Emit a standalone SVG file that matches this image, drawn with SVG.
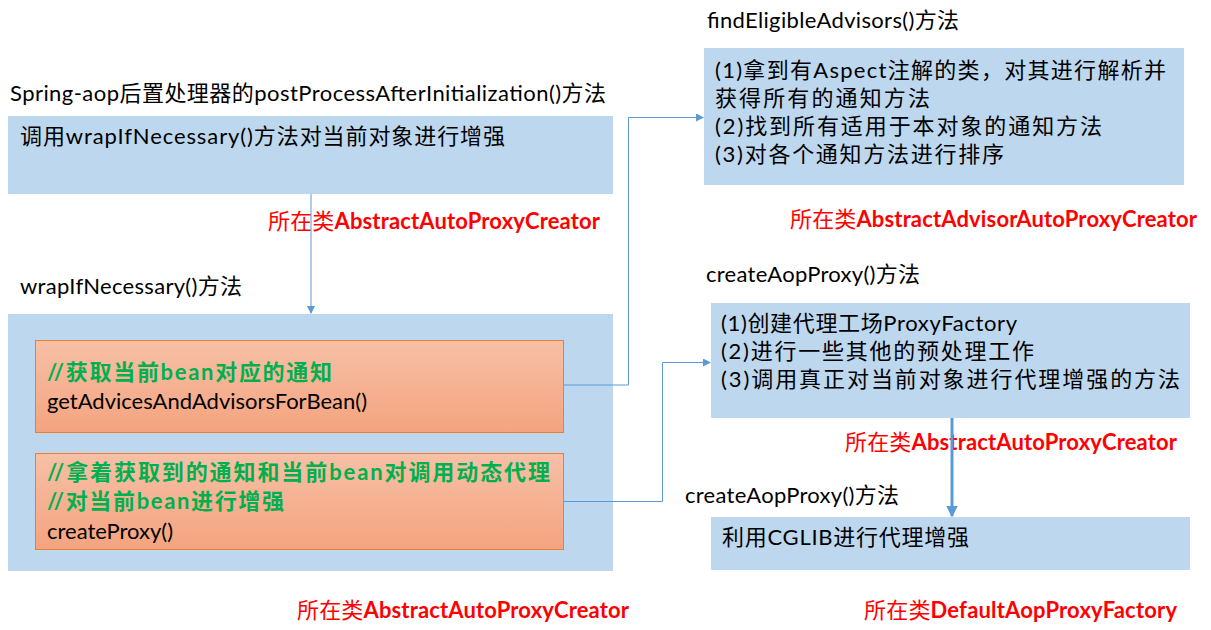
<svg xmlns="http://www.w3.org/2000/svg" width="1211" height="630" viewBox="0 0 1211 630">
<style>
text{font-family:Lato,"Noto Sans CJK SC",sans-serif;font-size:22px;fill:#000}
.box{fill:#BDD7EE}
.ob{fill:url(#og);stroke:#ED7D31;stroke-width:1}
.red{fill:#FF0000}
.red tspan.b{font-weight:bold}
.green{fill:#00B050;font-weight:bold}
.con{fill:none;stroke:#5B9BD5;stroke-width:1}
</style>
<defs>
<linearGradient id="og" x1="0" y1="0" x2="0" y2="1">
<stop offset="0" stop-color="#F7C0A6"/>
<stop offset="1" stop-color="#F4A37F"/>
</linearGradient>
<marker id="ah" markerWidth="8" markerHeight="8" refX="7" refY="4" orient="auto" markerUnits="userSpaceOnUse">
<path d="M0,0 L8,4 L0,8 Z" fill="#5B9BD5"/>
</marker>
<marker id="ah2" markerWidth="4" markerHeight="4" refX="3.5" refY="2" orient="auto">
<path d="M0,0 L4,2 L0,4 Z" fill="#5B9BD5"/>
</marker>
</defs>

<g id="post">
<text x="10" y="101" textLength="596" lengthAdjust="spacing">Spring-aop后置处理器的postProcessAfterInitialization()方法</text>
<rect class="box" x="8" y="116" width="605" height="78"/>
<text x="20" y="144" textLength="485" lengthAdjust="spacing">调用wrapIfNecessary()方法对当前对象进行增强</text>
<text class="red" x="268" y="229" textLength="332" lengthAdjust="spacing">所在类<tspan class="b">AbstractAutoProxyCreator</tspan></text>
</g>

<g id="wrap">
<text x="20" y="294" textLength="222" lengthAdjust="spacing">wrapIfNecessary()方法</text>
<rect class="box" x="8" y="314" width="605" height="257"/>
<text class="red" x="297" y="618" textLength="332" lengthAdjust="spacing">所在类<tspan class="b">AbstractAutoProxyCreator</tspan></text>
</g>

<g id="getAdvices">
<rect class="ob" x="35.5" y="340.5" width="528" height="92"/>
<text class="green" x="47" y="380" textLength="285" lengthAdjust="spacing">//获取当前bean对应的通知</text>
<text x="47" y="409" textLength="320" lengthAdjust="spacing">getAdvicesAndAdvisorsForBean()</text>
</g>

<g id="createProxy">
<rect class="ob" x="35.5" y="453.5" width="528" height="96"/>
<text class="green" x="47" y="480" textLength="503" lengthAdjust="spacing">//拿着获取到的通知和当前bean对调用动态代理</text>
<text class="green" x="47" y="509" textLength="237" lengthAdjust="spacing">//对当前bean进行增强</text>
<text x="47" y="539" textLength="126" lengthAdjust="spacing">createProxy()</text>
</g>

<g id="findEligible">
<text x="707" y="28" textLength="252" lengthAdjust="spacing">findEligibleAdvisors()方法</text>
<rect class="box" x="704" y="48" width="480" height="137"/>
<text x="715" y="78" textLength="451" lengthAdjust="spacing">(1)拿到有Aspect注解的类，对其进行解析并</text>
<text x="715" y="106" textLength="215" lengthAdjust="spacing">获得所有的通知方法</text>
<text x="715" y="134" textLength="387" lengthAdjust="spacing">(2)找到所有适用于本对象的通知方法</text>
<text x="715" y="162" textLength="289" lengthAdjust="spacing">(3)对各个通知方法进行排序</text>
<text class="red" x="790" y="227" textLength="407" lengthAdjust="spacing">所在类<tspan class="b">AbstractAdvisorAutoProxyCreator</tspan></text>
</g>

<g id="createAopProxy1">
<text x="706" y="282" textLength="214" lengthAdjust="spacing">createAopProxy()方法</text>
<rect class="box" x="711" y="303" width="479" height="115"/>
<text x="721" y="331" textLength="296" lengthAdjust="spacing">(1)创建代理工场ProxyFactory</text>
<text x="721" y="359" textLength="313" lengthAdjust="spacing">(2)进行一些其他的预处理工作</text>
<text x="721" y="387" textLength="459" lengthAdjust="spacing">(3)调用真正对当前对象进行代理增强的方法</text>
<text class="red" x="845" y="450" textLength="332" lengthAdjust="spacing">所在类<tspan class="b">AbstractAutoProxyCreator</tspan></text>
</g>

<g id="createAopProxy2">
<text x="685" y="503" textLength="214" lengthAdjust="spacing">createAopProxy()方法</text>
<rect class="box" x="711" y="517" width="479" height="53"/>
<text x="722" y="545" textLength="247" lengthAdjust="spacing">利用CGLIB进行代理增强</text>
<text class="red" x="864" y="618" textLength="313" lengthAdjust="spacing">所在类<tspan class="b">DefaultAopProxyFactory</tspan></text>
</g>

<g id="connectors">
<path class="con" d="M311,194 V313" marker-end="url(#ah)"/>
<path class="con" d="M564,385 H628.5 V117.5 H703" marker-end="url(#ah)"/>
<path class="con" d="M564,501.5 H662.5 V362.5 H710" marker-end="url(#ah)"/>
<path d="M952,418 V516" stroke="#5B9BD5" stroke-width="3" fill="none" marker-end="url(#ah2)"/>
</g>
</svg>
